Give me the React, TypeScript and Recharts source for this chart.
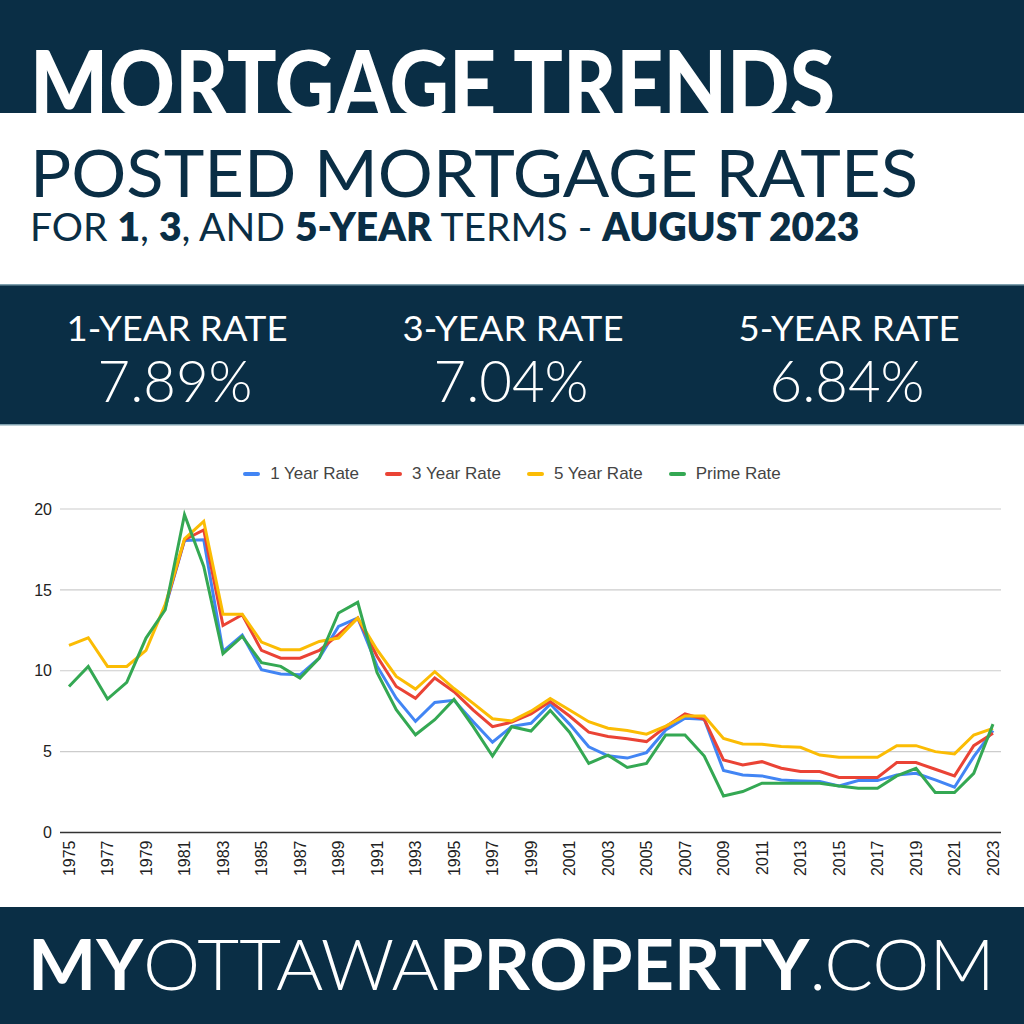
import React from 'react'
import { LineChart, Line, XAxis, YAxis, CartesianGrid } from 'recharts'

const NAVY = '#0a2e45'

const years = [
  '1975', '1976', '1977', '1978', '1979', '1980', '1981', '1982', '1983', '1984',
  '1985', '1986', '1987', '1988', '1989', '1990', '1991', '1992', '1993', '1994',
  '1995', '1996', '1997', '1998', '1999', '2000', '2001', '2002', '2003', '2004',
  '2005', '2006', '2007', '2008', '2009', '2010', '2011', '2012', '2013', '2014',
  '2015', '2016', '2017', '2018', '2019', '2020', '2021', '2022', '2023',
]

const oneYear = [
  null, null, null, null, null, 13.9, 18.06, 18.1, 11.2, 12.2,
  10.06, 9.8, 9.75, 10.78, 12.74, 13.26, 10.3, 8.3, 6.87, 8.04,
  8.17, 6.85, 5.58, 6.56, 6.75, 7.94, 6.7, 5.3, 4.74, 4.6,
  4.94, 6.34, 7.06, 7.0, 3.83, 3.56, 3.5, 3.25, 3.19, 3.15,
  2.88, 3.21, 3.21, 3.56, 3.66, 3.25, 2.8, 4.69, 6.3,
]

const threeYear = [
  null, null, null, null, null, 14.0, 18.1, 18.7, 12.8, 13.46,
  11.26, 10.78, 10.78, 11.26, 12.23, 13.26, 10.9, 9.03, 8.3, 9.55,
  8.7, 7.57, 6.54, 6.82, 7.33, 8.1, 7.2, 6.2, 5.93, 5.8,
  5.62, 6.54, 7.33, 7.0, 4.49, 4.18, 4.38, 3.97, 3.77, 3.77,
  3.4, 3.4, 3.4, 4.32, 4.32, 3.91, 3.5, 5.37, 6.13,
]

const fiveYear = [
  11.57, 12.04, 10.27, 10.27, 11.26, 14.1, 18.15, 19.24, 13.5, 13.5,
  11.77, 11.3, 11.3, 11.81, 12.02, 13.26, 11.3, 9.65, 8.87, 9.94,
  8.9, 7.98, 7.03, 6.9, 7.5, 8.29, 7.57, 6.85, 6.45, 6.31,
  6.08, 6.58, 7.2, 7.2, 5.82, 5.47, 5.45, 5.31, 5.27, 4.79,
  4.65, 4.65, 4.65, 5.37, 5.37, 5.0, 4.86, 6.03, 6.44,
]

const prime = [
  9.03, 10.27, 8.25, 9.28, 12.02, 13.77, 19.65, 16.45, 11.05, 12.12,
  10.5, 10.27, 9.55, 10.78, 13.57, 14.23, 9.9, 7.6, 6.04, 6.97,
  8.23, 6.54, 4.73, 6.54, 6.27, 7.55, 6.2, 4.27, 4.78, 4.02,
  4.27, 6.03, 6.03, 4.73, 2.26, 2.53, 3.05, 3.05, 3.05, 3.05,
  2.88, 2.74, 2.74, 3.5, 3.97, 2.47, 2.47, 3.66, 6.7,
]

const yTicks = [0, 5, 10, 15, 20]

const series = [
  { key: 'oneYear', name: '1 Year Rate', color: '#4285f4' },
  { key: 'threeYear', name: '3 Year Rate', color: '#ea4335' },
  { key: 'fiveYear', name: '5 Year Rate', color: '#fbbc04' },
  { key: 'prime', name: 'Prime Rate', color: '#34a853' },
]

const stats = [
  { label: '1-YEAR RATE', value: '7.89%', cx: 177 },
  { label: '3-YEAR RATE', value: '7.04%', cx: 513 },
  { label: '5-YEAR RATE', value: '6.84%', cx: 849 },
]

const data = years.map((year, i) => ({
  year,
  oneYear: oneYear[i],
  threeYear: threeYear[i],
  fiveYear: fiveYear[i],
  prime: prime[i],
}))

const AXIS_FONT = "Arial, 'Liberation Sans', sans-serif"

const YearTick = ({ x, y, payload }: any) => (
  <g transform={`translate(${x},${y})`}>
    <text
      transform="rotate(-90)"
      x={-6}
      dy="0.36em"
      textAnchor="end"
      fill="#222"
      fontSize={16}
      fontFamily={AXIS_FONT}
    >
      {payload.value}
    </text>
  </g>
)

const App = () => {
  return (
    <div style={{ position: 'fixed', left: 0, top: 0, width: 1024, height: 1024, background: '#fff', overflow: 'hidden' }}>
      {/* header */}
      <svg width={1024} height={440} style={{ position: 'absolute', left: 0, top: 0 }}>
        <rect x={0} y={0} width={1024} height={113} fill={NAVY} />
        <text x={30} y={117} fontFamily="Lato" fontWeight={900} fontSize={92} fill="#fff"
          textLength={805} lengthAdjust="spacingAndGlyphs">MORTGAGE TRENDS</text>
        <text x={30} y={197} fontFamily="Lato" fontWeight={400} fontSize={65} fill={NAVY}
          textLength={888} lengthAdjust="spacingAndGlyphs">POSTED MORTGAGE RATES</text>
        <text x={30} y={241} fontFamily="Lato" fontWeight={400} fontSize={39} fill={NAVY}>
          FOR <tspan fontWeight={800}>1</tspan>, <tspan fontWeight={800}>3</tspan>, AND{' '}
          <tspan fontWeight={800}>5-YEAR</tspan> TERMS - <tspan fontWeight={800}>AUGUST 2023</tspan>
        </text>

        <rect x={0} y={284} width={1024} height={141} fill={NAVY} />
        <rect x={0} y={284} width={1024} height={1.5} fill="#7fa0ae" />
        <rect x={0} y={424} width={1024} height={1.5} fill="#7fa0ae" />
        {stats.map(s => (
          <g key={s.label}>
            <text x={s.cx} y={341} textAnchor="middle" fontFamily="Lato" fontWeight={400} fontSize={35}
              fill="#fff" textLength={221} lengthAdjust="spacingAndGlyphs">{s.label}</text>
            <text x={s.cx - 2} y={402} textAnchor="middle" fontFamily="Lato" fontWeight={300} fontSize={58}
              fill="#fff" textLength={155} lengthAdjust="spacingAndGlyphs">{s.value}</text>
          </g>
        ))}
      </svg>

      {/* legend */}
      <div style={{
        position: 'absolute', left: 0, top: 464, width: 1024, display: 'flex', justifyContent: 'center',
        fontFamily: AXIS_FONT, fontSize: 17, color: '#444', lineHeight: '20px',
      }}>
        {series.map(s => (
          <div key={s.key} style={{ display: 'flex', alignItems: 'center', margin: '0 13px' }}>
            <span style={{ display: 'inline-block', width: 17, height: 4, borderRadius: 2, background: s.color, marginRight: 10 }} />
            <span>{s.name}</span>
          </div>
        ))}
      </div>

      {/* chart */}
      <div style={{ position: 'absolute', left: 0, top: 440 }}>
        <LineChart width={1024} height={470} data={data} margin={{ top: 69, right: 23, bottom: 0, left: 0 }}>
          <CartesianGrid vertical={false} stroke="#cccccc" strokeWidth={1.2} />
          <XAxis
            dataKey="year"
            interval={1}
            tick={<YearTick />}
            tickLine={false}
            tickSize={0}
            height={77.5}
            padding={{ left: 9, right: 8 }}
            axisLine={{ stroke: '#333', strokeWidth: 1.6 }}
          />
          <YAxis
            domain={[0, 20]}
            ticks={yTicks}
            width={60}
            axisLine={false}
            tickLine={false}
            tickSize={0}
            tickMargin={8}
            tick={{ fill: '#222', fontSize: 16, fontFamily: AXIS_FONT }}
          />
          {series.map(s => (
            <Line
              key={s.key}
              type="linear"
              dataKey={s.key}
              name={s.name}
              stroke={s.color}
              strokeWidth={3}
              dot={false}
              activeDot={false}
              isAnimationActive={false}
            />
          ))}
        </LineChart>
      </div>

      {/* footer */}
      <svg width={1024} height={119} style={{ position: 'absolute', left: 0, top: 905 }}>
        <rect x={0} y={2} width={1024} height={117} fill={NAVY} />
        <text x={28} y={85} fontFamily="Lato" fontSize={70} fill="#fff" textLength={967} lengthAdjust="spacingAndGlyphs">
          <tspan fontWeight={700}>MY</tspan>
          <tspan fontWeight={300}>OTTAWA</tspan>
          <tspan fontWeight={700}>PROPERTY</tspan>
          <tspan fontWeight={300}>.COM</tspan>
        </text>
      </svg>
    </div>
  )
}

export default App
